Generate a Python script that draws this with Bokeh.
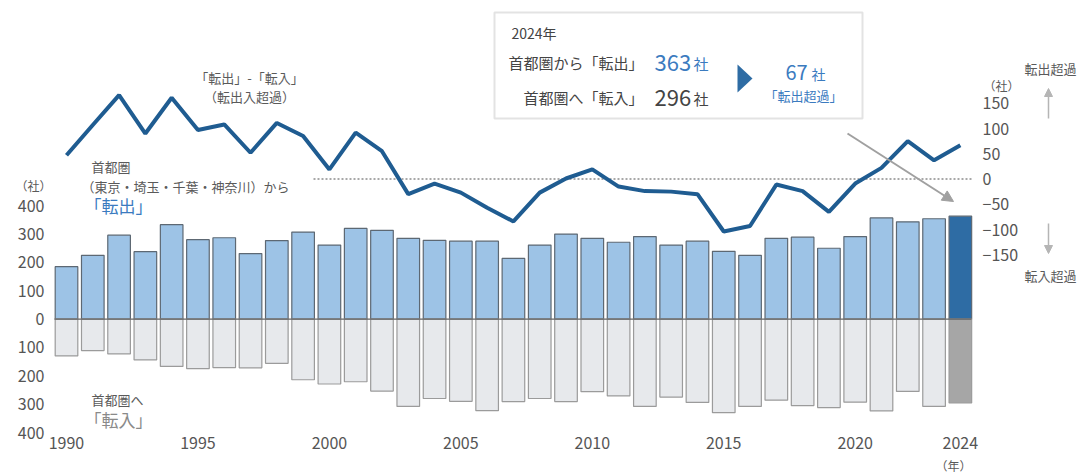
from bokeh.plotting import figure
from bokeh.models import (Range1d, LinearAxis, FixedTicker, Label, BoxAnnotation,
                          Arrow, NormalHead, PolyAnnotation)
from bokeh.embed import file_html
from bokeh.resources import INLINE

# ---- data ----
years = list(range(1990, 2025))
out_vals = [185, 225, 296, 238, 333, 280, 287, 231, 277, 307, 261,
            320, 313, 285, 278, 275, 275, 214, 261, 300, 285,
            271, 291, 261, 275, 239, 225, 285, 289, 250, 291,
            357, 343, 354, 363]
in_vals = [130, 111, 123, 144, 167, 175, 171, 172, 156, 214, 229,
           221, 254, 308, 280, 290, 323, 291, 280, 291, 256,
           271, 308, 275, 294, 330, 308, 286, 305, 312, 293,
           324, 255, 308, 296]
net_vals = [47, 107, 166, 90, 161, 97, 108, 52, 111, 85, 19,
            92, 55, -30, -9, -27, -57, -84, -27, 1, 19,
            -15, -24, -25, -30, -104, -93, -11, -24, -65, -9,
            22, 75, 37, 67]
x_ticks = [1990, 1995, 2000, 2005, 2010, 2015, 2020, 2024]
left_ticks = [-400, -300, -200, -100, 0, 100, 200, 300, 400]
right_ticks = [-150, -100, -50, 0, 50, 100, 150]

FONT = "Noto Sans CJK JP"
GREY_TXT = "#5a5a5a"
BLUE_TXT = "#3b7bbf"
W, H = 1084, 474

# pixel -> data helpers (for annotation placement)
def dx(px):
    return 1990 + (px - 66) / 26.29

def dy(py):
    return (318.6 - py) / 0.2835

def dr(py):
    return (178.5 - py) / 0.505

p = figure(width=W, height=H,
           x_range=Range1d(dx(0), dx(W)),
           y_range=Range1d(dy(H), dy(0)),
           output_backend="svg", toolbar_location=None,
           min_border_left=0, min_border_right=0,
           min_border_top=0, min_border_bottom=0)
p.outline_line_color = None
p.grid.visible = False
p.extra_y_ranges = {"net": Range1d(dr(H), dr(0))}

# bars
up_colors = ["#9DC3E6"] * (len(years) - 1) + ["#2E6CA4"]
dn_colors = ["#E7E9EC"] * (len(years) - 1) + ["#A6A6A6"]
neg_in = [-v for v in in_vals]
p.vbar(x=years, top=out_vals, bottom=0, width=0.86, fill_color=up_colors,
       line_color="#5d6873", line_width=1.2)
p.vbar(x=years, top=0, bottom=neg_in, width=0.86, fill_color=dn_colors,
       line_color="#9b9b9b", line_width=1.2)
p.segment(x0=[dx(54)], y0=[0], x1=[dx(971)], y1=[0], line_color="#666666", line_width=1.2)

# zero dotted line for net
p.segment(x0=[dx(313)], y0=[0], x1=[dx(973)], y1=[0], y_range_name="net",
          line_color="#a8a8a8", line_width=2, line_dash="2 2")
# net line
p.line(x=years, y=net_vals, y_range_name="net", line_color="#1F5C91", line_width=4)

# axes (fixed inside the full-size frame)
p.xaxis.ticker = FixedTicker(ticks=x_ticks)
p.xaxis.fixed_location = dy(428)
p.yaxis.ticker = FixedTicker(ticks=left_ticks)
p.yaxis.major_label_overrides = {t: str(abs(t)) for t in left_ticks}
p.yaxis.fixed_location = dx(50)
ax_r = LinearAxis(y_range_name="net", ticker=FixedTicker(ticks=right_ticks),
                  fixed_location=dx(975))
p.add_layout(ax_r, "right")
for ax in [p.xaxis[0], p.yaxis[0], ax_r]:
    ax.axis_line_color = None
    ax.major_tick_line_color = None
    ax.minor_tick_line_color = None
    ax.major_label_text_font = FONT
    ax.major_label_text_font_size = "16px"
    ax.major_label_text_color = "#555555"
p.xaxis.major_label_standoff = 2
p.yaxis[0].major_label_standoff = 0
ax_r.major_label_standoff = 1


def lab(px, py, text, size=14, color=GREY_TXT, align="left"):
    p.add_layout(Label(x=dx(px), y=dy(py), text=text, text_font=FONT,
                       text_font_size=f"{size}px", text_color=color,
                       text_align=align, text_baseline="middle"))

# left / bottom texts
lab(15, 185, "（社）", 12)
lab(953, 465, "（年）", 12, align="center")
lab(91, 166, "首都圏", 13)
lab(81, 186, "（東京・埼玉・千葉・神奈川）から", 13)
lab(84, 205, "「転出」", 17, BLUE_TXT)
lab(91, 399, "首都圏へ", 13)
lab(84, 419, "「転入」", 17, "#8a8a8a")
lab(249, 77, "「転出」-「転入」", 13, align="center")
lab(249, 96, "（転出入超過）", 13, align="center")

# right side texts & arrows
lab(983, 85, "（社）", 12)
lab(1050, 68, "転出超過", 13, align="center")
lab(1050, 275, "転入超過", 13, align="center")
p.add_layout(Arrow(x_start=dx(1048), y_start=dy(118), x_end=dx(1048), y_end=dy(88),
                   line_color="#b5b5b5", line_width=1.5,
                   end=NormalHead(size=8, fill_color="#b5b5b5", line_color="#b5b5b5")))
p.add_layout(Arrow(x_start=dx(1048), y_start=dy(223), x_end=dx(1048), y_end=dy(253),
                   line_color="#b5b5b5", line_width=1.5,
                   end=NormalHead(size=8, fill_color="#b5b5b5", line_color="#b5b5b5")))

# summary box
p.add_layout(BoxAnnotation(left=dx(494), right=dx(862), top=dy(12), bottom=dy(118),
                           fill_color="white", fill_alpha=1,
                           line_color="#a3a3a3", line_width=2))
lab(511, 32, "2024年", 14, "#444444")
lab(643, 62, "首都圏から「転出」", 15, "#444444", align="right")
lab(654, 62, "363", 22, BLUE_TXT)
lab(693, 63, "社", 15, BLUE_TXT)
lab(643, 97, "首都圏へ「転入」", 15, "#444444", align="right")
lab(654, 97, "296", 22, "#444444")
lab(693, 98, "社", 15, "#444444")
lab(796, 72, "67", 20, BLUE_TXT, align="center")
lab(818, 73, "社", 14, BLUE_TXT, align="center")
lab(803, 95, "「転出超過」", 13, BLUE_TXT, align="center")
p.add_layout(PolyAnnotation(xs=[dx(737), dx(737), dx(752)], ys=[dy(64), dy(92), dy(78)],
                            fill_color="#2E6CA4", fill_alpha=1, line_color=None))

# grey pointer arrow
p.add_layout(Arrow(x_start=dx(847), y_start=dy(133), x_end=dx(953), y_end=dy(201),
                   line_color="#a0a0a0", line_width=2,
                   end=NormalHead(size=11, fill_color="#a0a0a0", line_color="#a0a0a0")))

open("out.html", "w").write(file_html(p, INLINE))
